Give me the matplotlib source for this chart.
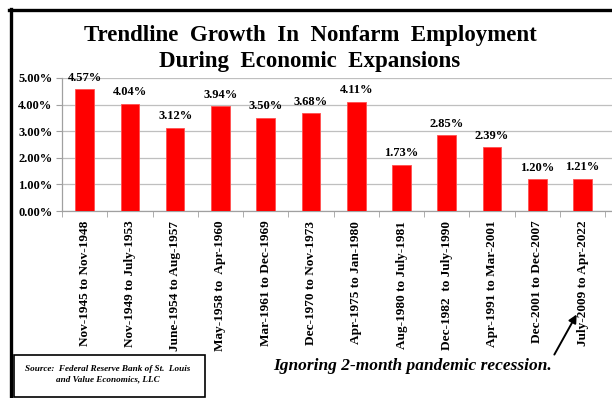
import matplotlib
matplotlib.use("Agg")
import matplotlib.pyplot as plt
from matplotlib.lines import Line2D
from matplotlib.patches import Rectangle

# Data
periods = ["Nov-1945 to Nov-1948", "Nov-1949 to July-1953", "June-1954 to Aug-1957",
           "May-1958 to  Apr-1960", "Mar-1961 to Dec-1969", "Dec-1970 to Nov-1973",
           "Apr-1975 to Jan-1980", "Aug-1980 to July-1981", "Dec-1982  to July-1990",
           "Apr-1991 to Mar-2001", "Dec-2001 to Dec-2007", "July-2009 to Apr-2022"]
growth = [4.57, 4.04, 3.12, 3.94, 3.50, 3.68, 4.11, 1.73, 2.85, 2.39, 1.20, 1.21]
yticks = [0, 1, 2, 3, 4, 5]

W, H = 612, 398
plt.rcParams['font.family'] = ['Liberation Serif', 'DejaVu Serif']
plt.rcParams['font.weight'] = 'bold'

fig = plt.figure(figsize=(W / 100, H / 100), dpi=100)
ax = fig.add_axes([62 / W, 1 - 211 / H, (W - 62) / W, (211 - 78) / H])

x = list(range(len(periods)))
bars = ax.bar(x, growth, width=0.41, color='#FF0000', edgecolor='#FF5050',
              linewidth=0.6, zorder=3)

for xi, v in zip(x, growth):
    ax.annotate(f"{v:.2f}%", (xi, v), xytext=(0, 4), textcoords='offset points',
                ha='center', va='bottom', fontsize=9, fontweight='bold')

ax.set_ylim(0, 5)
ax.set_yticks(yticks)
ax.set_yticklabels([f"{t:.2f}%" for t in yticks], fontsize=9, fontweight='bold')
ax.set_xlim(-0.5, 11.65)
ax.set_xticks(x)
ax.set_xticklabels(periods, rotation=90, fontsize=9.5, fontweight='bold', va='top')
ax.tick_params(axis='x', length=0, pad=7)
# category separator ticks along the bottom
ax.set_xticks([i - 0.5 for i in range(len(periods) + 1)], minor=True)
ax.tick_params(axis='x', which='minor', length=4, color='#A0A0A0', direction='out')
ax.tick_params(axis='y', length=4, color='#A0A0A0', pad=3)

ax.grid(axis='y', color='#BFBFBF', linewidth=0.9, zorder=0)
ax.set_axisbelow(True)
for side in ['top', 'right']:
    ax.spines[side].set_visible(False)
for side in ['left', 'bottom']:
    ax.spines[side].set_color('#A0A0A0')
    ax.spines[side].set_linewidth(0.9)

# title
fig.text(310 / W, 1 - 35 / H, "Trendline  Growth  In  Nonfarm  Employment",
         ha='center', va='center', fontsize=16.5, fontweight='bold')
fig.text(310 / W, 1 - 62 / H, "During  Economic  Expansions",
         ha='center', va='center', fontsize=16.5, fontweight='bold')

# outer frame (top and left)
fig.add_artist(Line2D([9 / W, 1], [1 - 10 / H, 1 - 10 / H], color='black',
                      linewidth=2.4, transform=fig.transFigure))
fig.add_artist(Line2D([10.5 / W, 10.5 / W], [0, 1 - 9 / H], color='black',
                      linewidth=2.4, transform=fig.transFigure))

# source box
fig.add_artist(Rectangle((14 / W, 1 / H), (205 - 14) / W, (397 - 355) / H,
                         fill=False, edgecolor='black', linewidth=1.2,
                         transform=fig.transFigure))
fig.text(108 / W, 1 - 374 / H,
         "Source:  Federal Reserve Bank of St.  Louis\nand Value Economics, LLC",
         ha='center', va='center', fontsize=6.6, fontweight='bold',
         fontstyle='italic', multialignment='center', linespacing=1.45)

# pandemic note with arrow
fig.text(413 / W, 1 - 366 / H, "Ignoring 2-month pandemic recession.",
         ha='center', va='center', fontsize=12.5, fontweight='bold', fontstyle='italic')
ax.annotate("", xy=(578 / W, 1 - 312 / H), xycoords='figure fraction',
            xytext=(553 / W, 1 - 357 / H), textcoords='figure fraction',
            arrowprops=dict(arrowstyle='-|>', color='black', lw=1.4,
                            mutation_scale=12))

fig.savefig("out.png", dpi=100)
